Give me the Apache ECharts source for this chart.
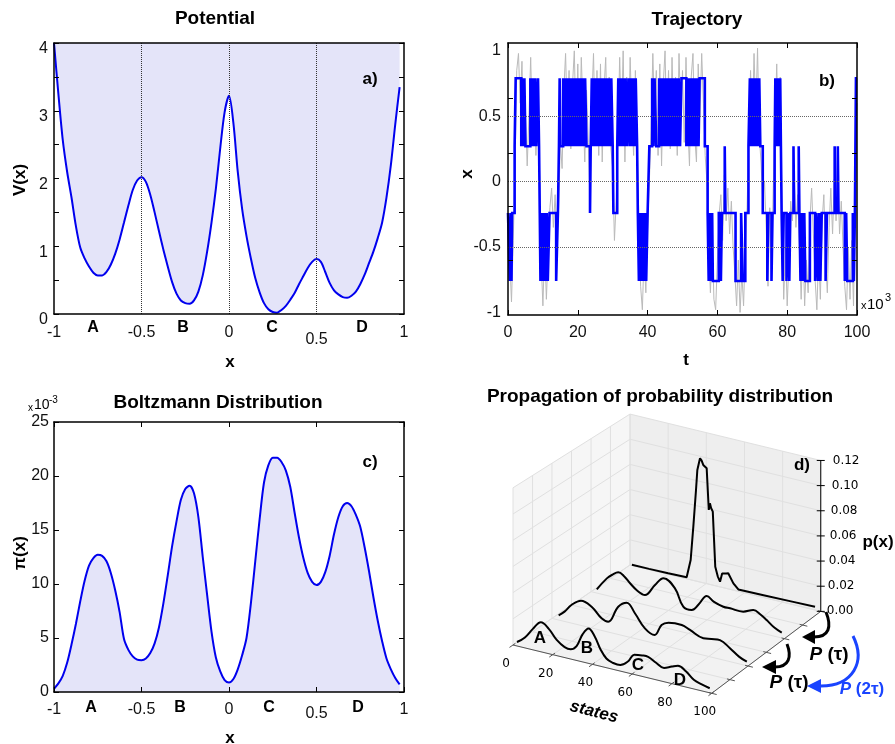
<!DOCTYPE html>
<html>
<head>
<meta charset="utf-8">
<title>Potential, trajectory, Boltzmann distribution</title>
<script src="https://cdn.jsdelivr.net/npm/echarts@6/dist/echarts.min.js"></script>
<style>
  html, body { margin: 0; padding: 0; background: #fff; }
  #chart { width: 895px; height: 744px; }
</style>
</head>
<body>
<div id="chart"></div>
<script>
// sampling grid shared by panels a) and c): x = -1, -0.975, ... 0.975
const xStart = -1;
const xStep = 0.025;

// ---- a) potential V(x)
const potentialV = [
  4.0, 3.25, 2.57, 2.1, 1.72, 1.3, 0.98, 0.82, 0.7, 0.61,
  0.57, 0.57, 0.62, 0.73, 0.89, 1.1, 1.35, 1.6, 1.83, 1.97,
  2.02, 1.95, 1.76, 1.5, 1.22, 0.95, 0.7, 0.47, 0.3, 0.2,
  0.16, 0.15, 0.2, 0.33, 0.57, 0.92, 1.35, 1.85, 2.45, 2.98,
  3.22, 2.82, 2.1, 1.55, 1.15, 0.82, 0.53, 0.32, 0.16, 0.07,
  0.03, 0.02, 0.06, 0.12, 0.21, 0.31, 0.44, 0.56, 0.68, 0.77,
  0.81, 0.77, 0.62, 0.46, 0.35, 0.29, 0.25, 0.24, 0.27, 0.33,
  0.44, 0.58, 0.75, 0.92, 1.12, 1.35, 1.72, 2.2, 2.8, 3.35];
const barriers = [-0.5, 0, 0.5];
const stateNames = ['A', 'B', 'C', 'D'];

// ---- c) Boltzmann distribution (units of 1e-3)
const boltzP = [
  0.3, 0.8, 1.5, 2.7, 4.4, 6.3, 8.4, 10.3, 11.7, 12.4,
  12.7, 12.6, 12.1, 11.0, 9.4, 7.4, 4.9, 3.9, 3.3, 3.0,
  2.95, 3.1, 3.6, 4.5, 6.0, 8.2, 10.8, 13.5, 15.8, 17.8,
  18.8, 19.1, 18.4, 16.2, 12.5, 9.0, 5.6, 3.2, 1.9, 1.1,
  0.87, 1.2, 2.1, 3.4, 5.0, 8.2, 12.1, 16.0, 19.4, 21.0,
  21.7, 21.7, 21.3, 20.5, 19.0, 16.6, 14.3, 12.4, 11.0, 10.2,
  9.9, 10.2, 11.1, 12.6, 14.6, 16.2, 17.2, 17.5, 17.2, 16.4,
  15.3, 13.4, 11.2, 8.8, 6.6, 4.7, 3.1, 2.1, 1.3, 0.7];

// ---- b) trajectory, t in units of 1e3
const grayStep = 0.5;
const grayX = [
  -0.25, -0.6, -0.92, -0.45, 0.1, 0.85, 0.98, 0.6, 0.92, 0.35,
  0.55, 0.12, 0.5, 0.95, 0.4, 0.75, 0.2, 0.55, 0.15, -0.6,
  -0.95, -0.5, -0.9, -0.55, -0.2, -0.05, -0.35, -0.1, -0.45, -0.2,
  0.3, 0.1, 0.7, 0.98, 0.45, 0.85, 0.25, 0.75, 1.0, 0.4,
  0.9, 0.3, 0.95, 0.55, 0.15, 0.7, 0.3, -0.15, 0.6, 0.98,
  0.35, 0.85, 0.2, 0.9, 0.15, 0.7, 0.95, 0.3, 0.8, 0.25,
  0.1, -0.45, -0.15, 0.35, 0.95, 0.45, 1.0, 0.15, 0.8, 0.3,
  0.95, 0.5, 0.2, 0.85, 0.3, -0.3, -0.8, -0.98, -0.55, -0.85,
  -0.35, 0.0, 0.4, 0.98, 0.5, 0.85, 0.2, 0.9, 0.12, 0.75,
  1.0, 0.35, 0.85, 0.25, 0.95, 0.45, 0.8, 0.2, 0.98, 0.5,
  0.85, 0.3, 0.95, 0.45, 0.12, 0.8, 0.98, 0.35, 0.15, 0.9,
  0.5, 0.98, 0.6, 0.2, 0.0, -0.5, -0.85, -0.4, -0.9, -0.98,
  -0.6, -0.25, -0.1, -0.45, 0.05, -0.3, -0.05, -0.4, -0.15, -0.5,
  -0.7, -0.95, -0.6, -1.0, -0.7, -0.95, -0.5, -0.2, 0.3, 0.85,
  0.4, 0.98, 0.5, 1.02, 0.35, 0.15, -0.15, 0.0, -0.35, -0.8,
  -0.2, -0.7, -0.05, 0.4, 0.9, 0.3, 0.8, -0.2, -0.9, -0.5,
  -0.95, -0.6, -0.15, -0.3, 0.05, -0.35, -0.1, -0.5, -0.9, -0.45,
  -0.95, -0.6, -0.85, -0.3, -0.05, -0.4, -0.75, -0.98, -0.55, -0.9,
  -0.3, -0.1, -0.6, -0.85, -0.35, -0.05, -0.4, 0.02, -0.3, 0.05,
  -0.4, -0.15, -0.5, -0.8, -0.98, -0.5, -0.9, -0.45, -0.95, -0.1,
  0.6];
// discretised state: [t, level] at each jump
const stateJumps = [
  [0, -0.24], [0.5, -0.76], [0.8, -0.24], [1.0, -0.76], [1.2, -0.24], [1.9, 0.27], [2.2, 0.79],
  [3.8, 0.27], [4.1, 0.79], [4.4, 0.27], [4.7, 0.79], [5.0, 0.27],
  [6.4, 0.79], [6.8, 0.27], [7.1, 0.79], [7.4, 0.27], [7.8, 0.79], [8.1, 0.27], [8.6, 0.79], [8.9, 0.27],
  [9.1, -0.24], [9.3, -0.76], [9.7, -0.24], [10.0, -0.76], [10.4, -0.24], [10.7, -0.76], [11.1, -0.24], [11.4, -0.76], [11.9, -0.24],
  [13.8, -0.76], [14.3, -0.24], [14.6, 0.27], [14.8, 0.79], [15.0, 0.27],
  [15.8, 0.79], [16.2, 0.27], [16.5, 0.79], [16.9, 0.27], [17.2, 0.79], [17.6, 0.27], [17.9, 0.79], [18.3, 0.27],
  [18.6, 0.79], [19.0, 0.27], [19.3, 0.79], [19.7, 0.27], [20.0, 0.79], [20.4, 0.27], [20.7, 0.79], [21.1, 0.27],
  [21.4, 0.79], [21.8, 0.27], [22.1, 0.79], [22.5, 0.27],
  [23.5, -0.24], [23.7, 0.27],
  [24.0, 0.79], [24.4, 0.27], [24.7, 0.79], [25.1, 0.27], [25.4, 0.79], [25.8, 0.27], [26.1, 0.79], [26.5, 0.27],
  [26.8, 0.79], [27.2, 0.27], [27.5, 0.79], [27.9, 0.27], [28.2, 0.79], [28.6, 0.27], [28.9, 0.79], [29.3, 0.27],
  [29.6, 0.79], [30.0, 0.27],
  [30.2, -0.24], [31.3, 0.27],
  [31.6, 0.79], [32.0, 0.27], [32.3, 0.79], [32.7, 0.27], [33.0, 0.79], [33.4, 0.27], [33.7, 0.79], [34.1, 0.27],
  [34.5, 0.79], [34.9, 0.27], [35.2, 0.79], [35.6, 0.27], [35.9, 0.79], [36.3, 0.27], [36.6, 0.79], [37.0, 0.27],
  [37.2, -0.24], [37.5, -0.76], [37.9, -0.24], [38.2, -0.76], [38.6, -0.24], [38.9, -0.76], [39.3, -0.24], [39.6, -0.76], [40.0, -0.24],
  [40.5, 0.27], [41.3, 0.79], [41.7, 0.27], [42.0, 0.79], [42.5, 0.27],
  [43.3, 0.79], [43.7, 0.27], [44.0, 0.79], [44.4, 0.27], [44.7, 0.79], [45.1, 0.27], [45.4, 0.79], [45.8, 0.27],
  [46.1, 0.79], [46.5, 0.27], [46.8, 0.79], [47.2, 0.27], [47.5, 0.79], [47.9, 0.27], [48.2, 0.79], [48.6, 0.27],
  [48.9, 0.79], [49.3, 0.27], [49.7, 0.79],
  [51.1, 0.27], [51.4, 0.79], [51.8, 0.27], [52.1, 0.79], [52.5, 0.27], [52.8, 0.79], [53.2, 0.27], [53.5, 0.79],
  [53.9, 0.27], [54.2, 0.79], [54.6, 0.27], [54.9, 0.79],
  [56.4, 0.27], [57.2, -0.24], [57.5, -0.76], [57.8, -0.24], [58.1, -0.76], [58.5, -0.24], [58.7, -0.76],
  [60.4, -0.24], [61.0, -0.76], [61.3, -0.24], [62.1, 0.27], [62.3, -0.24],
  [65.2, -0.76], [66.8, -0.24], [67.3, -0.76], [68.0, -0.24], [68.9, 0.27], [69.3, 0.79],
  [69.6, 0.27], [69.9, 0.79], [70.3, 0.27], [70.6, 0.79], [71.0, 0.27], [71.3, 0.79], [71.7, 0.27], [72.0, 0.79], [72.3, 0.27],
  [73.0, -0.24], [74.3, -0.76], [74.6, -0.24], [75.5, -0.76], [75.8, -0.24], [76.4, 0.27], [76.6, 0.79], [77.0, 0.27],
  [77.3, 0.79], [77.7, 0.27], [78.0, 0.79], [78.2, 0.27], [78.4, -0.24], [78.7, -0.76], [79.0, -0.24], [79.8, -0.76],
  [80.3, -0.24], [80.6, -0.76], [80.9, -0.24], [81.8, 0.27], [82.0, -0.24], [83.3, 0.27], [83.5, -0.24], [83.8, -0.76],
  [84.2, -0.24], [84.5, -0.76], [84.9, -0.24], [85.2, -0.76], [86.5, -0.24], [88.0, -0.76], [88.4, -0.24], [88.8, -0.76],
  [89.2, -0.24], [89.5, -0.76], [89.9, -0.24], [91.0, -0.76], [91.4, -0.24], [93.6, 0.27], [93.8, -0.24], [94.5, 0.27],
  [94.7, -0.24], [96.5, -0.76], [96.9, -0.24], [97.2, -0.76], [98.8, -0.24], [99.1, -0.76], [99.4, -0.24], [99.7, 0.79], [100, 0.79]
];
const trajGridLevels = [0.5, 0, -0.5];
const trajLabelTicks = [-1, -0.5, 0, 0.5, 1];
const trajMinorTicks = [-0.6, -0.19, 0.22, 0.64];

// ---- d) propagation of p(x), curves as [state, p]
const statesTicks = [0, 20, 40, 60, 80, 100];
const pTicks = [0, 0.02, 0.04, 0.06, 0.08, 0.10, 0.12];
const depthTicks = [0, 0.167, 0.333, 0.5, 0.667, 0.833, 1];
const curveDepth = [0, 0.34, 0.66, 1];
const curve0 = [[2, 0.003], [6, 0.008], [10, 0.016], [14, 0.0225], [18, 0.019], [22, 0.012], [26, 0.008], [29, 0.0075],
  [32, 0.011], [35, 0.021], [38, 0.0267], [41, 0.022], [44, 0.013], [47, 0.007], [50, 0.005], [54, 0.0046], [58, 0.009],
  [61, 0.015], [65, 0.016], [68, 0.016], [72, 0.013], [76, 0.0105], [80, 0.013], [83, 0.0147], [87, 0.012], [91, 0.007],
  [95, 0.005], [99, 0.0035]];
const curve1 = [[3, 0.003], [6, 0.007], [9.5, 0.0134], [14.4, 0.0186], [19.8, 0.0159], [24.9, 0.0088], [28.3, 0.0074],
  [33.4, 0.0209], [37.7, 0.0256], [41.9, 0.019], [47, 0.0092], [52, 0.0059], [55.5, 0.0149], [59, 0.018], [65.8, 0.0187],
  [70, 0.0164], [76.8, 0.0125], [81, 0.0135], [85.3, 0.0142], [90.4, 0.0098], [95, 0.005], [99, 0.0025]];
const curve2 = [[3.4, 0.0035], [8.6, 0.014], [11.5, 0.018], [14.5, 0.0209], [17.5, 0.019], [20.6, 0.0146], [24.5, 0.01],
  [28.3, 0.0082], [33.5, 0.018], [37.8, 0.0249], [43.8, 0.0192], [48.1, 0.0064], [52.5, 0.0054], [56, 0.011], [60.2, 0.0192],
  [64, 0.016], [68.8, 0.014], [72.3, 0.014], [79.1, 0.0139], [84.3, 0.0171], [88, 0.015], [91.2, 0.0118], [95, 0.0075], [99, 0.0048]];
const curve3 = [[1, 0.0005], [10, 0.0006], [20, 0.0008], [29.7, 0.0012], [31.8, 0.0157], [33.2, 0.0427], [34.6, 0.0724],
  [35.3, 0.0886], [36.7, 0.0984], [37.5, 0.097], [38.4, 0.0937], [39.3, 0.094], [40.2, 0.0917], [41.3, 0.059], [41.9, 0.0645],
  [42.5, 0.061], [43.4, 0.0584], [44.7, 0.0151], [46, 0.008], [47.2, 0.0041], [48.3, 0.011], [49.3, 0.0129], [50.4, 0.0118],
  [51.5, 0.0124], [54.2, 0.0054], [56.8, 0.0015], [70, 0.0018], [85, 0.0022], [97, 0.0025]];
const curves3d = [curve0, curve1, curve2, curve3];

const FONT = '"Liberation Sans", Arial, Helvetica, sans-serif';
const MPL = '"DejaVu Sans", sans-serif';
const BLUE = '#0000ee';
const FILL = '#e4e4f9';

// oblique view of the 3d box: state s (0-100), depth d (0-1), p
function project(s, d, p) {
  const f = 1 - 0.04 * d;
  return [513 + 117 * d + f * s * 1.987, 645 - 80 * d + f * (s * 0.483 - p * 1310)];
}

function renderBox(params, api) {
  const P = (s, d, p) => api.coord(project(s, d, p));
  const pMax = pTicks[pTicks.length - 1];
  const kids = [];
  const seg = (a, b, color, w) => kids.push({ type: 'line', shape: { x1: a[0], y1: a[1], x2: b[0], y2: b[1] }, style: { stroke: color, lineWidth: w } });
  const pane = (pts, fill) => kids.push({ type: 'polygon', shape: { points: pts }, style: { fill: fill } });
  const label = (x, y, t, align) => kids.push({ type: 'text', x: x, y: y,
    style: { text: t, fill: '#000', fontSize: 12, fontFamily: MPL, align: align, verticalAlign: 'middle' } });

  pane([P(0, 0, 0), P(100, 0, 0), P(100, 1, 0), P(0, 1, 0)], '#f2f2f2');
  pane([P(0, 0, 0), P(0, 1, 0), P(0, 1, pMax), P(0, 0, pMax)], '#f6f6f6');
  pane([P(0, 1, 0), P(100, 1, 0), P(100, 1, pMax), P(0, 1, pMax)], '#eeeeee');
  const gc = '#e0e0e0';
  statesTicks.forEach(s => { seg(P(s, 0, 0), P(s, 1, 0), gc, 1); seg(P(s, 1, 0), P(s, 1, pMax), gc, 1); });
  depthTicks.forEach(d => { seg(P(0, d, 0), P(100, d, 0), gc, 1); seg(P(0, d, 0), P(0, d, pMax), gc, 1); });
  pTicks.forEach(p => { seg(P(0, 0, p), P(0, 1, p), gc, 1); seg(P(0, 1, p), P(100, 1, p), gc, 1); });

  seg(P(0, 0, 0), P(100, 0, 0), '#555', 1);
  seg(P(100, 0, 0), P(100, 1, 0), '#555', 1);
  seg(P(100, 1, 0), P(100, 1, pMax), '#000', 1);
  statesTicks.forEach(s => {
    seg(P(s, -0.03, 0), P(s, 0.02, 0), '#555', 1);
    const b = P(s, 0, 0);
    label(b[0] - 7, b[1] + 19, String(s), 'center');
  });
  depthTicks.forEach(d => seg(P(98.5, d, 0), P(102.5, d, 0), '#555', 1));
  pTicks.forEach(p => {
    const b = P(100, 1, p);
    seg([b[0] - 4, b[1]], [b[0] + 4, b[1]], '#000', 1);
    label(b[0] + 6 + p * 50, b[1], p.toFixed(2), 'left');
  });
  return { type: 'group', children: kids };
}

function txt(x, y, text, size, opt) {
  opt = opt || {};
  return {
    type: 'text', x: x, y: y, rotation: opt.rot || 0, z: 100,
    style: {
      text: text, fill: opt.color || '#000', fontSize: size,
      fontWeight: opt.weight || 'bold', fontStyle: opt.italic ? 'italic' : 'normal',
      fontFamily: opt.family || FONT, align: opt.align || 'center', verticalAlign: 'middle',
      rich: opt.rich
    }
  };
}

const LBL = { show: true, fontSize: 16, color: '#111', fontFamily: FONT };

function axis(o) {
  return Object.assign({
    type: 'value', z: 10,
    axisLine: { show: true, onZero: false, lineStyle: { color: '#000', width: 1.5 } },
    axisTick: { show: true, inside: true, length: 5, lineStyle: { color: '#000', width: 1 } },
    axisLabel: { show: false },
    splitLine: { show: false }
  }, o);
}
const noTick = { show: false };
const lowHalf = v => (v === 0.5 ? '{lo|0.5}' : String(v));
const lowered = v => '{d|' + v + '}';
const onGrid = vals => vals.map((v, i) => [+(xStart + i * xStep).toFixed(3), v]);

const chart = echarts.init(document.getElementById('chart'));

const option = {
  animation: false,
  backgroundColor: '#fff',
  grid: [
    { left: 54, top: 43, width: 350, height: 271 },
    { left: 508, top: 43, width: 349, height: 272 },
    { left: 54, top: 422, width: 350, height: 270 },
    { left: 0, top: 0, width: 895, height: 744 }
  ],
  xAxis: [
    axis({ gridIndex: 0, min: -1, max: 1, interval: 0.5, position: 'bottom', axisTick: noTick,
      axisLabel: Object.assign({}, LBL, { margin: 11, formatter: lowHalf,
        rich: { lo: { fontSize: 16, color: '#111', fontFamily: FONT, padding: [7, 0, 0, 0] } } }) }),
    axis({ gridIndex: 0, min: -1, max: 1, interval: 0.5, position: 'top', axisTick: noTick }),
    axis({ gridIndex: 1, min: 0, max: 100, interval: 20, position: 'bottom',
      axisLabel: Object.assign({}, LBL, { margin: 10 }) }),
    axis({ gridIndex: 1, min: 0, max: 100, interval: 20, position: 'top' }),
    axis({ gridIndex: 2, min: -1, max: 1, interval: 0.5, position: 'bottom',
      axisLabel: Object.assign({}, LBL, { margin: 10, formatter: lowHalf,
        rich: { lo: { fontSize: 16, color: '#111', fontFamily: FONT, padding: [4, 0, 0, 0] } } }) }),
    axis({ gridIndex: 2, min: -1, max: 1, interval: 0.5, position: 'top' }),
    { type: 'value', gridIndex: 3, min: 0, max: 895, show: false }
  ],
  yAxis: [
    axis({ gridIndex: 0, min: 0, max: 4, interval: 0.5, position: 'left',
      axisLabel: Object.assign({}, LBL, { customValues: [0, 1, 2, 3, 4], margin: 6, formatter: lowered,
        rich: { d: { fontSize: 16, color: '#111', fontFamily: FONT, padding: [12, 0, 0, 0] } } }) }),
    axis({ gridIndex: 0, min: 0, max: 4, interval: 0.5, position: 'right' }),
    axis({ gridIndex: 1, min: -1.02, max: 1.06, position: 'left',
      axisTick: { show: true, inside: true, length: 5, customValues: trajMinorTicks, lineStyle: { color: '#000' } },
      axisLabel: Object.assign({}, LBL, { customValues: trajLabelTicks, margin: 7 }) }),
    axis({ gridIndex: 1, min: -1.02, max: 1.06, position: 'right',
      axisTick: { show: true, inside: true, length: 5, customValues: trajMinorTicks, lineStyle: { color: '#000' } } }),
    axis({ gridIndex: 2, min: 0, max: 25, interval: 5, position: 'left',
      axisLabel: Object.assign({}, LBL, { margin: 5 }) }),
    axis({ gridIndex: 2, min: 0, max: 25, interval: 5, position: 'right' }),
    { type: 'value', gridIndex: 3, min: 0, max: 744, inverse: true, show: false }
  ],
  series: [
    {
      name: 'V(x)', type: 'line', xAxisIndex: 0, yAxisIndex: 0, z: 2,
      data: onGrid(potentialV),
      smooth: 0.3, symbol: 'none',
      lineStyle: { color: BLUE, width: 2 },
      areaStyle: { color: FILL, origin: 'end', opacity: 1 },
      markLine: { silent: true, symbol: 'none', label: { show: false },
        lineStyle: { color: '#333', type: 'dotted', width: 1 },
        data: barriers.map(x => ({ xAxis: x })) }
    },
    {
      name: 'pi(x)', type: 'line', xAxisIndex: 4, yAxisIndex: 4, z: 2,
      data: onGrid(boltzP),
      smooth: 0.3, symbol: 'none',
      lineStyle: { color: BLUE, width: 2 },
      areaStyle: { color: FILL, origin: 'start', opacity: 1 }
    },
    {
      name: 'x(t)', type: 'line', xAxisIndex: 2, yAxisIndex: 2, z: 2,
      data: grayX.map((v, i) => [i * grayStep, v]),
      symbol: 'none', lineStyle: { color: '#bababa', width: 1 },
      markLine: { silent: true, symbol: 'none', label: { show: false },
        lineStyle: { color: '#666', type: 'dotted', width: 1 },
        data: trajGridLevels.map(y => ({ yAxis: y })) }
    },
    {
      name: 'state', type: 'line', xAxisIndex: 2, yAxisIndex: 2, z: 3,
      data: stateJumps, step: 'end', symbol: 'none', sampling: null,
      lineStyle: { color: '#0000ff', width: 2.6, join: 'miter' }
    },
    {
      name: 'box', type: 'custom', xAxisIndex: 6, yAxisIndex: 6, z: 1, silent: true,
      data: [[0, 0]], renderItem: renderBox
    }
  ].concat(curves3d.map((c, k) => ({
    name: 'p' + k, type: 'line', xAxisIndex: 6, yAxisIndex: 6, z: 3,
    data: c.map(([s, p]) => project(s, curveDepth[k], p)),
    smooth: k === 3 ? false : 0.4, symbol: 'none',
    lineStyle: { color: '#000', width: 2 }
  }))),
  graphic: [
    txt(215, 19, 'Potential', 19),
    txt(697, 20, 'Trajectory', 19),
    txt(218, 403, 'Boltzmann Distribution', 19),
    txt(660, 397, 'Propagation of probability distribution', 19),
    txt(370, 79, 'a)', 17), txt(827, 81, 'b)', 17), txt(370, 462, 'c)', 17), txt(802, 465, 'd)', 17),
    txt(230, 362, 'x', 17), txt(20, 180, 'V(x)', 17, { rot: Math.PI / 2 }),
    txt(230, 738, 'x', 17), txt(20, 553, 'π(x)', 17, { rot: Math.PI / 2 }),
    txt(686, 360, 't', 17), txt(467, 174, 'x', 17, { rot: Math.PI / 2 }),
    txt(861, 306, 'x', 11, { weight: 'normal', align: 'left' }),
    txt(867, 305, '10', 15, { weight: 'normal', align: 'left' }),
    txt(885, 298, '3', 11, { weight: 'normal', align: 'left' }),
    txt(28, 408, 'x', 10, { weight: 'normal', align: 'left' }),
    txt(34, 405, '10', 14, { weight: 'normal', align: 'left' }),
    txt(49, 400, '-3', 10, { weight: 'normal', align: 'left' }),
    ...stateNames.map((n, i) => txt([93, 183, 272, 362][i], 328, n, 16)),
    ...stateNames.map((n, i) => txt([91, 180, 269, 358][i], 708, n, 16)),
    ...stateNames.map((n, i) => txt([540, 587, 638, 680][i], [638, 648, 665, 680][i], n, 17)),
    txt(594, 712, 'states', 17, { italic: true, rot: -0.25 }),
    txt(878, 542, 'p(x)', 17),
    { type: 'bezierCurve', z: 100, shape: { x1: 826, y1: 612, cpx1: 832, cpy1: 627, cpx2: 829, cpy2: 637, x2: 814, y2: 637 },
      style: { stroke: '#000', lineWidth: 3, fill: null } },
    { type: 'polygon', z: 100, shape: { points: [[802, 637], [815, 630], [815, 644]] }, style: { fill: '#000' } },
    { type: 'bezierCurve', z: 100, shape: { x1: 787, y1: 644, cpx1: 792, cpy1: 657, cpx2: 789, cpy2: 667, x2: 775, y2: 667 },
      style: { stroke: '#000', lineWidth: 3, fill: null } },
    { type: 'polygon', z: 100, shape: { points: [[762, 667], [776, 660], [776, 674]] }, style: { fill: '#000' } },
    { type: 'bezierCurve', z: 100, shape: { x1: 853, y1: 636, cpx1: 866, cpy1: 662, cpx2: 853, cpy2: 686, x2: 821, y2: 686 },
      style: { stroke: '#1a44ff', lineWidth: 3, fill: null } },
    { type: 'polygon', z: 100, shape: { points: [[807, 686], [821, 679], [821, 693]] }, style: { fill: '#1a44ff' } },
    txt(829, 655, '{i|P} {n|(τ)}', 19, { rich: {
      i: { fontSize: 19, fontWeight: 'bold', fontStyle: 'italic', fontFamily: FONT, fill: '#000' },
      n: { fontSize: 19, fontWeight: 'bold', fontFamily: FONT, fill: '#000' } } }),
    txt(789, 683, '{i|P} {n|(τ)}', 19, { rich: {
      i: { fontSize: 19, fontWeight: 'bold', fontStyle: 'italic', fontFamily: FONT, fill: '#000' },
      n: { fontSize: 19, fontWeight: 'bold', fontFamily: FONT, fill: '#000' } } }),
    txt(862, 689, '{i|P} {n|(2τ)}', 17, { color: '#1a44ff', rich: {
      i: { fontSize: 17, fontWeight: 'bold', fontStyle: 'italic', fontFamily: FONT, fill: '#1a44ff' },
      n: { fontSize: 17, fontWeight: 'bold', fontFamily: FONT, fill: '#1a44ff' } } })
  ]
};

chart.setOption(option);
</script>
</body>
</html>
